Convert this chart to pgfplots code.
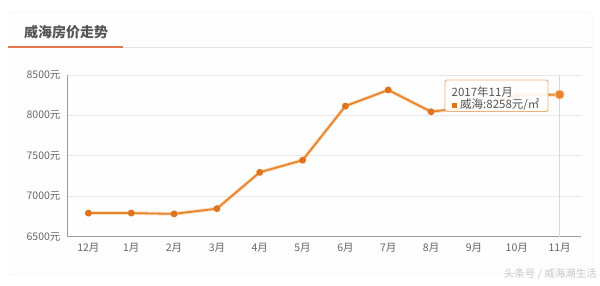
\documentclass[border=0pt]{standalone}
\usepackage{pgfplots}
\pgfplotsset{compat=1.18}
\usepackage{fontspec}
\setmainfont{Noto Sans CJK SC}
\definecolor{lineor}{HTML}{E8842C}
\definecolor{markor}{HTML}{DE7420}
\definecolor{halo}{HTML}{F7C99A}
\definecolor{txtgray}{HTML}{666666}
\definecolor{titlegray}{HTML}{555555}
\definecolor{gridc}{HTML}{E8E8E8}
\definecolor{axc}{HTML}{9A9A9A}
\definecolor{cardb}{HTML}{EDEDED}
\definecolor{cardf}{HTML}{FEFEFE}
\definecolor{sepc}{HTML}{E3E3E3}
\definecolor{crossc}{HTML}{DADADA}
\definecolor{wmc}{HTML}{C8C8C8}
\definecolor{tipb}{HTML}{F0B07A}
\definecolor{under}{HTML}{E4764E}
\begin{document}
\begin{tikzpicture}[x=1pt,y=1pt]
\fill[white] (0,0) rectangle (600,285);
% card
\draw[cardb, rounded corners=3pt, fill=cardf] (8,10) rectangle (592,273);
\draw[sepc, line width=0.8pt] (8,238) -- (592,238);
\draw[under, line width=1.4pt] (8,238) -- (123,238);
\node[anchor=west, text=titlegray, font=\fontsize{14}{16}\selectfont\bfseries, inner sep=0] at (24,253) {威海房价走势};
\begin{axis}[
  at={(67pt,48.5pt)}, anchor=south west,
  scale only axis, width=514pt, height=161.5pt,
  xmin=-0.5, xmax=11.5, ymin=6500, ymax=8500,
  axis lines=left, axis line style={-},
  x axis line style={axc, line width=1.3pt},
  y axis line style={axc, line width=1pt},
  major tick length=0pt,
  ymajorgrids, grid style={gridc, line width=0.7pt},
  xtick={0,...,11},
  xticklabels={12月,1月,2月,3月,4月,5月,6月,7月,8月,9月,10月,11月},
  ytick={6500,7000,7500,8000,8500},
  yticklabels={6500元,7000元,7500元,8000元,8500元},
  ticklabel style={text=txtgray, font=\fontsize{10.5}{12}\selectfont},
  xticklabel style={yshift=-3pt},
  yticklabel style={xshift=-3pt},
  clip=false,
]
\draw[crossc, line width=0.7pt] (axis cs:11,6500) -- (axis cs:11,8500);
\addplot[halo, line width=3.8pt, opacity=0.6, mark=none] coordinates {
(0,6790) (1,6790) (2,6780) (3,6845) (4,7295) (5,7445) (6,8115) (7,8315) (8,8045) (9,8110) (10,8245) (11,8258)};
\addplot[lineor, line width=1.8pt, mark=*, mark size=2.5pt, mark options={fill=markor, draw=markor}] coordinates {
(0,6790) (1,6790) (2,6780) (3,6845) (4,7295) (5,7445) (6,8115) (7,8315) (8,8045) (9,8110) (10,8245) (11,8258)};
\addplot[only marks, mark=*, mark size=4.6pt, mark options={fill=lineor, draw=halo, line width=0.8pt}] coordinates {(11,8258)};
\end{axis}
% tooltip
\draw[tipb, rounded corners=2pt, fill=white, fill opacity=0.92, line width=0.9pt] (445,173.5) rectangle (548,205);
\node[anchor=west, text=titlegray, font=\fontsize{11.5}{13}\selectfont, inner sep=0] at (451.5,192.5) {2017年11月};
\fill[markor] (452,177.5) rectangle (457,182.5);
\node[anchor=west, text=titlegray, font=\fontsize{11.5}{13}\selectfont, inner sep=0] at (460,180) {威海:8258元/㎡};
% watermark
\node[anchor=east, text=wmc, font=\fontsize{10.5}{12}\selectfont, inner sep=0] at (597,11) {头条号 / 威海潮生活};
\end{tikzpicture}
\end{document}
